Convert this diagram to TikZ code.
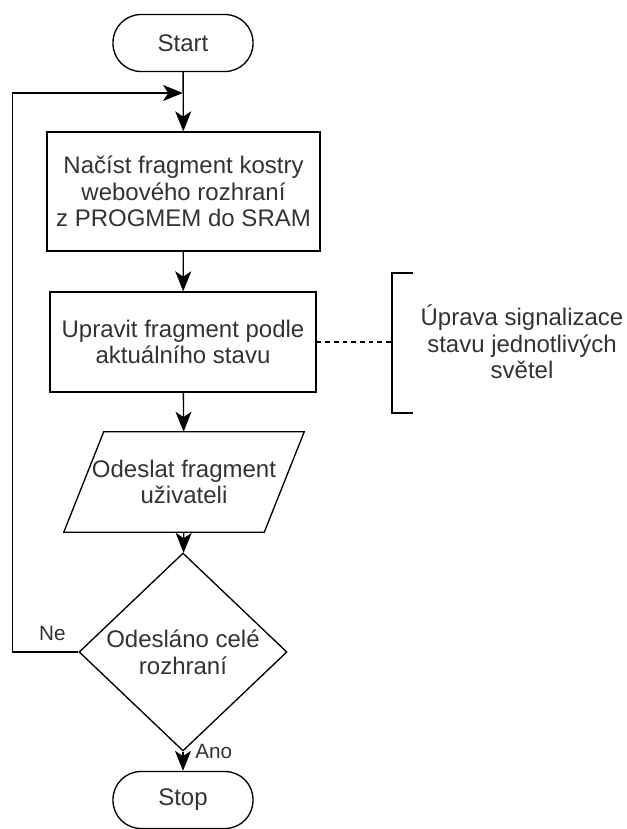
\documentclass[tikz,border=0pt]{standalone}
\usepackage{fontspec}
\setmainfont{Liberation Sans}
\usetikzlibrary{arrows.meta,shapes.geometric,positioning,calc}

\tikzset{
	term/.style={draw=black, line width=1pt, rounded corners=21pt, minimum width=105pt, minimum height=42.75pt},
	proc/.style={draw=black, line width=1pt, minimum height=75pt},
	io/.style={minimum width=150pt, minimum height=75pt, inner sep=0pt},
	decision/.style={draw=black, line width=1pt, diamond, minimum width=156pt, minimum height=119.25pt, inner sep=0pt},
	arr/.style={line width=1pt, -{Stealth[length=15pt, width=12pt, inset=4pt]}},
	lbl/.style={font=\fontsize{15.5}{18}\selectfont}
}

\begin{document}
\begin{tikzpicture}[x=0.75pt, y=-0.75pt, font=\fontsize{18}{20}\selectfont, text=black!80,
		every node/.append style={align=center}]
	\useasboundingbox (0,0) rectangle (626,829);

	\node[term] (start) at (183,43) {Start};
	\node[proc, minimum width=204.75pt, minimum height=89.25pt] (load) at (183.5,191.5)
		{Načíst fragment kostry\\webového rozhraní\\z PROGMEM do SRAM};
	\node[proc, minimum width=199.5pt] (modify) at (183,342)
		{Upravit fragment podle\\aktuálního stavu};
	\node[io] (send) at (184,482) {Odeslat fragment\\uživateli};
	\draw[line width=1pt] ($(send.north west)+(20,0)$) -- ($(send.north east)+(20,0)$)
		-- ($(send.south east)+(-20,0)$) -- ($(send.south west)+(-20,0)$) -- cycle;
	\node[decision] (decide) at (183,652) {Odesláno celé\\rozhraní};
	\node[term] (stop) at (183,800) {Stop};

	% poznamka k uprave fragmentu
	\node (note) at (522,342) {Úprava signalizace\\stavu jednotlivých\\světel};
	\coordinate (brk) at (392,342);
	\draw[line width=1pt] ($(brk)+(21,-69)$) -| ($(brk)+(0,71)$) -- ++(21,0);
	\draw[dashed, line width=0.8pt, dash pattern=on 3.5pt off 3pt] (modify) -- (brk);

	% hlavni tok
	\coordinate (loop) at (183,93);
	\draw[arr] (start) -- (load);
	\draw[arr] (load) -- (modify);
	\draw[arr] (modify) -- (send);
	\draw[arr] (send) -- (decide);
	\draw[arr] (decide) -- node[lbl, pos=0, anchor=west, xshift=5.5pt] {Ano} (stop);
	\draw[arr] (decide.west) -- node[lbl, pos=0, xshift=-19.5pt, yshift=14pt] {Ne} ++(-66,0) |- (loop);
\end{tikzpicture}
\end{document}
